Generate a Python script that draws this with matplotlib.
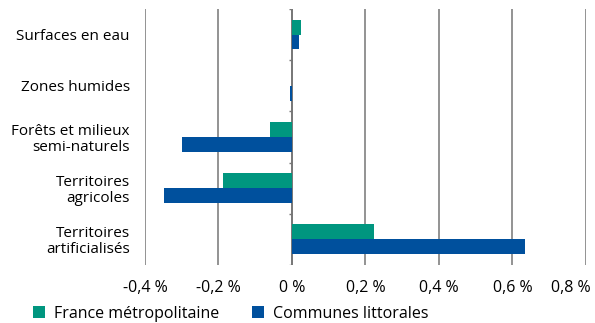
import numpy as np
import matplotlib
matplotlib.use("Agg")
import matplotlib.pyplot as plt
from matplotlib.ticker import FuncFormatter
from matplotlib.transforms import ScaledTranslation

categories = ["Surfaces en eau", "Zones humides", "Forêts et milieux\nsemi-naturels",
              "Territoires\nagricoles", "Territoires\nartificialisés"]
france = [0.025, 0.0, -0.059, -0.187, 0.224]
littoral = [0.020, -0.005, -0.299, -0.348, 0.634]

green = "#00967f"
blue = "#00509d"

plt.rcParams['font.family'] = ['Open Sans', 'DejaVu Sans']

fig = plt.figure(figsize=(5.95, 3.23), dpi=100)
ax = fig.add_axes([0.2437, 0.180, 0.741, 0.792])

y = np.arange(len(categories))
h = 0.29
ax.barh(y - h / 2, france, height=h, color=green, label="France métropolitaine", zorder=3)
ax.barh(y + h / 2, littoral, height=h, color=blue, label="Communes littorales", zorder=3)

ax.set_xlim(-0.4, 0.8)
ax.set_ylim(len(categories) - 0.5, -0.5)
ax.set_xticks(np.arange(-0.4, 0.81, 0.2))
ax.xaxis.set_major_formatter(FuncFormatter(
    lambda v, p: ("%.1f %%" % v).replace(".", ",").replace("0,0 %", "0 %").replace("-0 %", "0 %")))
ax.set_yticks(y)
ax.set_yticklabels(categories, fontsize=11, linespacing=1.05)
ax.tick_params(axis='y', length=0, pad=11)
ax.tick_params(axis='x', length=0, pad=11, labelsize=11.5)

# keep the last tick label inside the figure
fig.canvas.draw()
last = ax.get_xticklabels()[-1]
last.set_transform(last.get_transform() + ScaledTranslation(-0.15, 0, fig.dpi_scale_trans))

ax.grid(axis='x', color="#8a8a8a", linewidth=1.3, zorder=0)
ax.axvline(0, color="#777777", linewidth=1.3, zorder=2)
# small ticks on the category axis between groups
ax.hlines(np.arange(-0.5, len(categories) + 0.5), -0.008, 0, color="#777777", linewidth=1, zorder=2)

for s in ax.spines.values():
    s.set_visible(False)

ax.legend(loc='upper left', bbox_to_anchor=(-0.268, -0.135), ncol=2, frameon=False,
          fontsize=11.5, handlelength=0.75, handleheight=0.75, handletextpad=0.55,
          columnspacing=2.05, borderaxespad=0)

fig.savefig("out.png", dpi=100)
